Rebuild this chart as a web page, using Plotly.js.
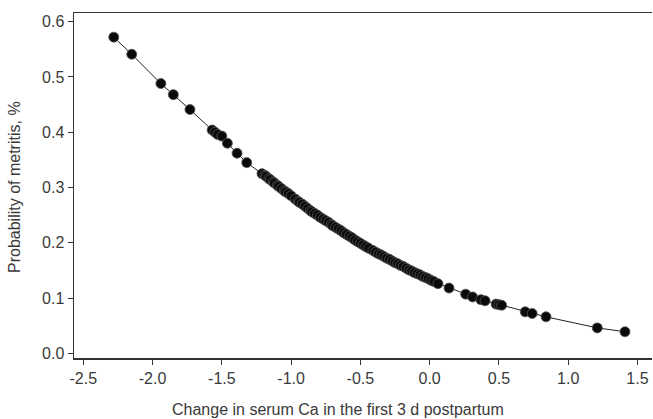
<!DOCTYPE html>
<html>
<head>
<meta charset="utf-8">
<script src="https://cdn.plot.ly/plotly-3.0.1.min.js"></script>
<style>html,body{margin:0;padding:0;background:#fff;}#chart{width:653px;height:419px;}</style>
</head>
<body>
<div id="chart"></div>
<script>
// Change in serum Ca (x) and predicted probability of metritis (y)
const caChange = [
  -2.28, -2.15, -1.94, -1.85, -1.73,
  -1.57, -1.55, -1.53, -1.50, -1.46, -1.39, -1.32,
  -1.21, -1.19, -1.18, -1.16, -1.15, -1.13, -1.12, -1.10, -1.09, -1.07,
  -1.05, -1.04, -1.02, -1.00, -0.97, -0.95, -0.94, -0.92, -0.90, -0.88,
  -0.86, -0.85, -0.83, -0.81, -0.79, -0.77, -0.75, -0.73, -0.71, -0.70,
  -0.68, -0.66, -0.64, -0.62, -0.60, -0.58, -0.56, -0.54, -0.52, -0.50,
  -0.48, -0.46, -0.44, -0.41, -0.39, -0.37, -0.35, -0.33, -0.31, -0.29,
  -0.27, -0.25, -0.23, -0.21, -0.19, -0.17, -0.15, -0.13, -0.11, -0.09,
  -0.07, -0.05, -0.03, -0.01, 0.01, 0.03, 0.06, 0.14, 0.26, 0.31,
  0.37, 0.40, 0.48, 0.50, 0.52, 0.69, 0.74, 0.84, 1.21, 1.41
];
const metritisProb = [
  0.572, 0.541, 0.488, 0.468, 0.441,
  0.404, 0.400, 0.396, 0.393, 0.380, 0.362, 0.345,
  0.325, 0.322, 0.320, 0.316, 0.314, 0.310, 0.308, 0.304, 0.302, 0.298,
  0.294, 0.292, 0.289, 0.285, 0.279, 0.275, 0.273, 0.270, 0.266, 0.262,
  0.258, 0.256, 0.253, 0.250, 0.246, 0.243, 0.240, 0.237, 0.233, 0.231,
  0.228, 0.225, 0.222, 0.218, 0.215, 0.212, 0.209, 0.205, 0.202, 0.199,
  0.196, 0.193, 0.190, 0.186, 0.183, 0.180, 0.178, 0.175, 0.172, 0.170,
  0.167, 0.164, 0.162, 0.159, 0.157, 0.154, 0.151, 0.149, 0.146, 0.144,
  0.142, 0.139, 0.137, 0.135, 0.132, 0.130, 0.126, 0.118, 0.107, 0.102,
  0.097, 0.095, 0.089, 0.088, 0.087, 0.075, 0.072, 0.066, 0.046, 0.039
];
const xTicks = [-2.5, -2.0, -1.5, -1.0, -0.5, 0.0, 0.5, 1.0, 1.5];
const xTickText = ['-2.5', '-2.0', '-1.5', '-1.0', '-0.5', '0.0', '0.5', '1.0', '1.5'];
const yTicks = [0.0, 0.1, 0.2, 0.3, 0.4, 0.5, 0.6];
const yTickText = ['0.0', '0.1', '0.2', '0.3', '0.4', '0.5', '0.6'];

const font = 'Liberation Sans, Arial, sans-serif';
const axisColor = '#333333';
const textColor = '#3a3a3a';

const traces = [
  {
    x: caChange, y: metritisProb, type: 'scatter', mode: 'lines',
    line: {color: '#222222', width: 1}, hoverinfo: 'skip', showlegend: false
  },
  {
    x: caChange, y: metritisProb, type: 'scatter', mode: 'markers',
    marker: {color: '#0a0a0a', size: 10, line: {color: '#555555', width: 0.8}},
    showlegend: false
  }
];

const layout = {
  width: 653, height: 419,
  margin: {l: 74, r: 1, t: 13, b: 61, pad: 0},
  paper_bgcolor: '#ffffff', plot_bgcolor: '#ffffff',
  font: {family: font, size: 16, color: textColor},
  showlegend: false,
  xaxis: {
    range: [-2.567, 1.605], tickmode: 'array', tickvals: xTicks, ticktext: xTickText,
    showgrid: false, zeroline: false, showline: true, mirror: true,
    linecolor: axisColor, linewidth: 1.5,
    ticks: 'outside', ticklen: 5, tickwidth: 1, tickcolor: axisColor,
    tickfont: {family: font, size: 16, color: textColor}
  },
  yaxis: {
    range: [-0.0085, 0.6157], tickmode: 'array', tickvals: yTicks, ticktext: yTickText,
    showgrid: false, zeroline: false, showline: true, mirror: false,
    linecolor: axisColor, linewidth: 1.5,
    ticks: 'outside', ticklen: 5, tickwidth: 1, tickcolor: axisColor,
    tickfont: {family: font, size: 16, color: textColor}
  },
  annotations: [
    {text: 'Change in serum Ca in the first 3 d postpartum', xref: 'paper', yref: 'paper',
     x: (337.5 - 74) / 578, y: -(409 - 358) / 345, xanchor: 'center', yanchor: 'middle',
     showarrow: false, font: {family: font, size: 16, color: textColor}},
    {text: 'Probability of metritis, %', xref: 'paper', yref: 'paper', textangle: -90,
     x: -(74 - 14) / 578, y: (358 - 187) / 345, xanchor: 'center', yanchor: 'middle',
     showarrow: false, font: {family: font, size: 16, color: textColor}}
  ]
};

Plotly.newPlot('chart', traces, layout, {displayModeBar: false, staticPlot: true});
</script>
</body>
</html>
